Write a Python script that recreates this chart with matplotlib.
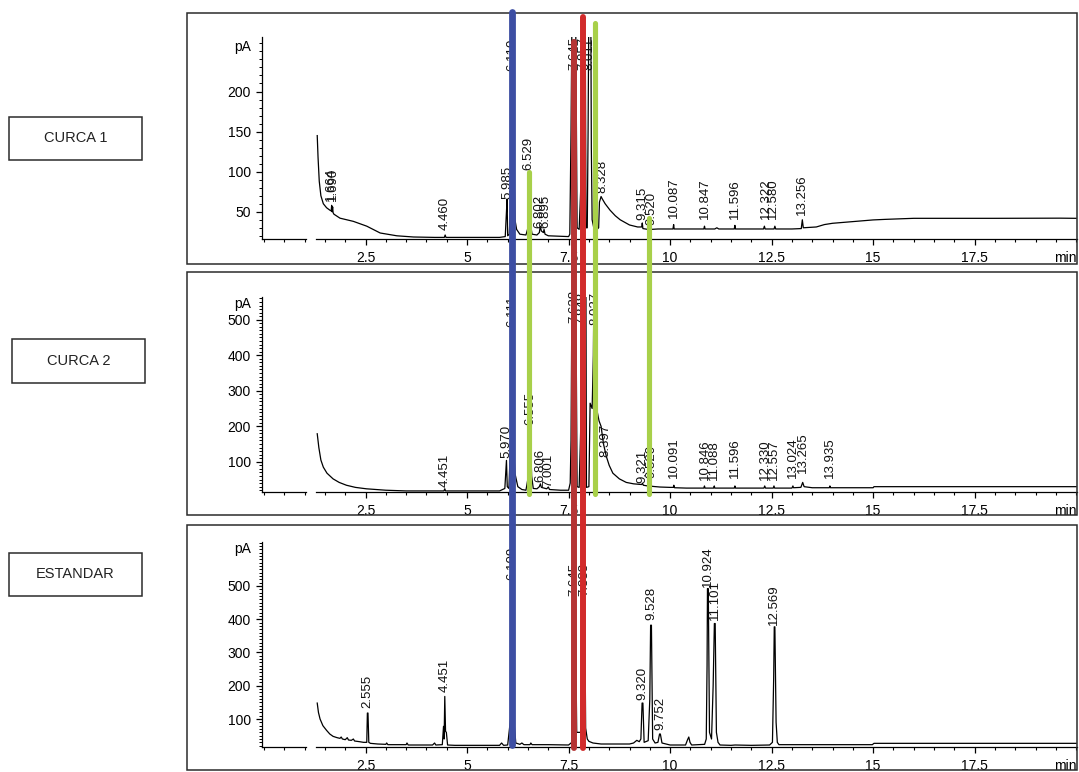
import matplotlib
matplotlib.use('Agg')
import matplotlib.pyplot as plt
import matplotlib.transforms as mtransforms
from matplotlib.patches import Rectangle
from matplotlib.lines import Line2D
from matplotlib.ticker import MultipleLocator, FixedLocator

plt.rcParams['font.family'] = ['Liberation Sans', 'DejaVu Sans']

# ---- data: (time min, signal pA) vertices ----
sample_names = ['CURCA 1', 'CURCA 2', 'ESTANDAR']

curca1_trace = [
    (1.31, 145), (1.33, 118), (1.36, 88), (1.40, 70), (1.46, 60), (1.54, 55), (1.62, 52),
    (1.655, 51), (1.665, 58), (1.675, 50), (1.69, 56), (1.70, 49), (1.72, 47), (1.87, 42),
    (2.20, 38), (2.53, 32), (2.86, 23.5), (3.27, 20), (3.68, 18.5), (4.20, 18), (4.44, 18),
    (4.46, 21), (4.48, 18), (5.00, 18), (5.80, 18), (5.94, 19), (5.97, 50), (5.985, 66),
    (6.00, 20), (6.04, 22), (6.07, 60), (6.11, 400), (6.15, 120), (6.18, 40), (6.22, 28),
    (6.30, 22), (6.45, 21), (6.50, 30), (6.53, 97), (6.56, 35), (6.60, 22), (6.72, 21),
    (6.78, 24), (6.802, 32), (6.83, 26), (6.88, 24), (6.895, 28), (6.92, 22), (7.00, 20),
    (7.50, 19), (7.53, 22), (7.56, 150), (7.60, 400), (7.66, 400), (7.71, 30), (7.76, 28),
    (7.80, 80), (7.85, 400), (7.90, 400), (7.93, 30), (7.96, 30), (7.98, 150), (8.01, 400),
    (8.04, 400), (8.06, 130), (8.08, 40), (8.12, 30), (8.20, 28), (8.24, 30), (8.26, 62),
    (8.30, 69), (8.33, 66), (8.40, 60), (8.52, 52), (8.65, 45), (8.77, 40), (9.00, 33.5),
    (9.20, 31), (9.30, 31), (9.315, 36), (9.33, 29), (9.45, 28), (9.50, 28), (9.52, 33),
    (9.54, 28), (9.70, 28.5), (10.07, 28.5), (10.087, 34), (10.10, 28.5), (10.40, 28.5),
    (10.83, 28.5), (10.847, 32), (10.86, 28.5), (11.10, 28.5), (11.15, 30), (11.20, 28.5),
    (11.58, 28.5), (11.596, 33), (11.61, 28.5), (11.85, 28.5), (12.30, 28.5), (12.322, 32),
    (12.34, 28.5), (12.56, 28.5), (12.58, 32), (12.60, 28.5), (13.00, 28.5), (13.23, 29),
    (13.256, 40), (13.28, 30), (13.60, 31), (13.80, 34), (14.00, 35.6), (14.50, 37.7),
    (15.00, 39.8), (15.30, 40.5), (16.00, 41.8), (18.00, 41.8), (19.60, 42), (20.00, 41.8),
]

curca2_trace = [
    (1.31, 179), (1.35, 140), (1.40, 105), (1.46, 85), (1.55, 68), (1.70, 52), (1.85, 42),
    (2.03, 34), (2.25, 28), (2.52, 24), (3.00, 20), (3.50, 18), (4.43, 18), (4.451, 24),
    (4.47, 18), (5.80, 18), (5.93, 25), (5.97, 104), (5.99, 30), (6.03, 25), (6.07, 150),
    (6.11, 900), (6.15, 130), (6.18, 67), (6.25, 30), (6.35, 22), (6.45, 20), (6.51, 60),
    (6.555, 195), (6.59, 60), (6.63, 25), (6.72, 24), (6.78, 30), (6.806, 38), (6.83, 28),
    (6.96, 24), (7.001, 29), (7.03, 22), (7.30, 20), (7.50, 20), (7.54, 40), (7.56, 160),
    (7.60, 900), (7.66, 900), (7.71, 30), (7.76, 28), (7.80, 200), (7.848, 900),
    (7.92, 900), (7.94, 28), (8.00, 30), (8.03, 265), (8.08, 250), (8.11, 400), (8.15, 900),
    (8.19, 250), (8.25, 215), (8.30, 200), (8.36, 150), (8.43, 115), (8.50, 90), (8.59, 68),
    (8.75, 52), (8.92, 42), (9.10, 38), (9.30, 36), (9.321, 40), (9.34, 34), (9.45, 32),
    (9.52, 38), (9.55, 31), (9.75, 29), (10.00, 28), (10.08, 28), (10.091, 34), (10.11, 27),
    (10.40, 26), (10.83, 26), (10.846, 32), (10.86, 26), (11.07, 26), (11.088, 32),
    (11.10, 26), (11.58, 26), (11.596, 32), (11.61, 26), (12.31, 26), (12.33, 32),
    (12.35, 26), (12.54, 26), (12.557, 32), (12.575, 26), (13.00, 26), (13.024, 32),
    (13.04, 27), (13.22, 28), (13.265, 42), (13.30, 30), (13.50, 27), (13.92, 27),
    (13.935, 32), (13.95, 27), (15.00, 27), (15.02, 30), (20.00, 30),
]

estandar_trace = [
    (1.31, 148), (1.34, 120), (1.38, 100), (1.45, 80), (1.54, 66), (1.62, 55), (1.70, 48),
    (1.80, 44), (1.87, 42), (1.90, 46), (1.93, 40), (2.00, 38), (2.05, 44), (2.08, 37),
    (2.15, 36), (2.20, 40), (2.23, 34), (2.35, 32), (2.45, 30), (2.53, 30), (2.545, 118),
    (2.56, 118), (2.58, 30), (2.62, 27), (2.80, 25), (3.00, 24), (3.02, 28), (3.05, 23),
    (3.50, 23), (3.52, 28), (3.55, 22), (4.15, 22), (4.20, 28), (4.23, 22), (4.39, 23),
    (4.42, 78), (4.435, 40), (4.451, 168), (4.47, 63), (4.49, 60), (4.52, 22), (4.70, 21),
    (5.80, 21), (5.85, 28), (5.90, 21), (6.00, 22), (6.07, 100), (6.11, 700), (6.15, 100),
    (6.20, 28), (6.30, 24), (6.35, 28), (6.40, 23), (6.55, 23), (6.57, 28), (6.60, 23),
    (7.00, 23), (7.50, 22), (7.58, 30), (7.645, 700), (7.70, 60), (7.80, 60), (7.883, 700),
    (7.92, 73), (7.96, 40), (8.00, 33), (8.10, 28), (8.30, 25), (9.00, 25), (9.10, 28),
    (9.18, 36), (9.24, 32), (9.28, 40), (9.31, 148), (9.33, 148), (9.36, 30), (9.46, 35),
    (9.50, 160), (9.52, 382), (9.54, 382), (9.57, 40), (9.63, 28), (9.70, 30), (9.74, 55),
    (9.76, 55), (9.80, 28), (9.90, 25), (10.00, 22), (10.38, 22), (10.43, 38), (10.46, 46),
    (10.49, 30), (10.53, 22), (10.85, 24), (10.89, 40), (10.91, 260), (10.92, 492),
    (10.94, 492), (10.97, 60), (11.02, 40), (11.06, 200), (11.09, 387), (11.11, 387),
    (11.14, 60), (11.18, 30), (11.23, 22), (11.50, 21), (11.60, 22), (12.00, 21),
    (12.45, 22), (12.52, 30), (12.55, 220), (12.565, 377), (12.58, 377), (12.61, 90),
    (12.64, 30), (12.68, 23), (13.00, 23), (14.00, 23), (14.98, 23), (15.02, 27),
    (18.00, 27), (20.00, 27),
]

# peak annotations: (text, time, pA where the text starts)
curca1_labels = [
    ('1.664', 1.66, 63), ('1.690', 1.69, 63), ('4.460', 4.46, 27), ('5.985', 5.985, 66),
    ('6.110', 6.11, 226), ('6.529', 6.51, 102), ('6.802', 6.78, 30), ('6.895', 6.92, 30),
    ('7.645', 7.645, 227), ('7.857', 7.857, 227), ('8.011', 8.011, 227), ('8.328', 8.328, 73),
    ('9.315', 9.315, 40), ('9.520', 9.54, 33), ('10.087', 10.087, 42), ('10.847', 10.847, 40.6),
    ('11.596', 11.596, 40.6), ('12.322', 12.36, 40.6), ('12.580', 12.54, 40.6),
    ('13.256', 13.256, 46),
]
curca2_labels = [
    ('4.451', 4.451, 30), ('5.970', 5.970, 111), ('6.111', 6.111, 480), ('6.555', 6.555, 204),
    ('6.806', 6.806, 43), ('7.001', 7.001, 29), ('7.638', 7.638, 491), ('7.848', 7.848, 485),
    ('8.027', 8.17, 485), ('8.397', 8.397, 114), ('9.321', 9.321, 40), ('9.520', 9.53, 54),
    ('10.091', 10.091, 54), ('10.846', 10.846, 49), ('11.088', 11.088, 49), ('11.596', 11.596, 54),
    ('12.330', 12.330, 49), ('12.557', 12.557, 49), ('13.024', 13.024, 54), ('13.265', 13.265, 68),
    ('13.935', 13.935, 54),
]
estandar_labels = [
    ('2.555', 2.555, 133), ('4.451', 4.451, 181), ('6.109', 6.109, 518), ('7.645', 7.645, 470),
    ('7.883', 7.883, 470), ('9.320', 9.320, 157), ('9.528', 9.528, 398), ('9.752', 9.752, 67),
    ('10.924', 10.924, 497), ('11.101', 11.101, 398), ('12.569', 12.569, 383),
]

# hand-drawn highlight bars (time of each bar)
bar_times = [6.11, 7.64, 7.85, 8.16, 6.53, 9.49]
bar_colors = ['#3d4ea3', '#b53434', '#d22b2b', '#a8d04a', '#a8d04a', '#a8d04a']

W, H = 1079, 772
fig = plt.figure(figsize=(W / 100, H / 100), dpi=100)


def fig_rect(l, t, r, b):
    return [l / W, 1 - b / H, (r - l) / W, (b - t) / H]


panels = [
    (curca1_trace, curca1_labels, (262, 37, 1077, 239), (187, 13, 1077, 264), (16, 268),
     [50, 100, 150, 200], 0.95, (9, 117, 142, 160)),
    (curca2_trace, curca2_labels, (262, 297, 1077, 492), (187, 272, 1077, 515), (15, 564),
     [100, 200, 300, 400, 500], 0.964, (12, 339, 145, 383)),
    (estandar_trace, estandar_labels, (262, 542, 1077, 747), (187, 525, 1077, 770), (16, 632),
     [100, 200, 300, 400, 500], 0.966, (9, 553, 142, 596)),
]

axes = []
for i, (trace, labels, ax_px, box_px, ylim, yticks, pa_y, name_px) in enumerate(panels):
    # outer frame of the chromatogram
    bl, bt, br, bb = box_px
    fig.add_artist(Rectangle((bl / W, 1 - bb / H), (br - bl) / W, (bb - bt) / H,
                             transform=fig.transFigure, fill=False, ec='#2b2b2b', lw=1.1))
    # sample name box on the left
    nl, nt, nr, nb = name_px
    fig.add_artist(Rectangle((nl / W, 1 - nb / H), (nr - nl) / W, (nb - nt) / H,
                             transform=fig.transFigure, fill=False, ec='#2b2b2b', lw=1.1))
    fig.text((nl + nr) / 2 / W, 1 - (nt + nb) / 2 / H, sample_names[i],
             ha='center', va='center', fontsize=10.5, color='#222222')

    ax = fig.add_axes(fig_rect(*ax_px))
    ax.patch.set_alpha(0)
    ts = [p[0] for p in trace]
    vs = [p[1] for p in trace]
    ax.plot(ts, vs, color='black', lw=0.9)

    ax.set_xlim(-0.05, 20.02)
    ax.set_ylim(*ylim)
    for s in ['top', 'right', 'bottom']:
        ax.spines[s].set_visible(False)
    ax.spines['left'].set_linewidth(0.9)
    # x axis line drawn with the little gap before the signal starts
    xt = ax.get_xaxis_transform()
    ax.plot([-0.05, 1.03], [0, 0], color='black', lw=0.9, transform=xt, clip_on=False)
    ax.plot([1.28, 20.02], [0, 0], color='black', lw=0.9, transform=xt, clip_on=False)

    ax.xaxis.set_major_locator(FixedLocator([2.5, 5, 7.5, 10, 12.5, 15, 17.5]))
    ax.set_xticklabels(['2.5', '5', '7.5', '10', '12.5', '15', '17.5'])
    ax.xaxis.set_minor_locator(MultipleLocator(0.5))
    ax.yaxis.set_major_locator(FixedLocator(yticks))
    ax.yaxis.set_minor_locator(MultipleLocator(10))
    ax.tick_params(axis='x', which='major', direction='out', length=4.5, width=0.9,
                   pad=4, labelsize=10)
    ax.tick_params(axis='x', which='minor', direction='out', length=2.5, width=0.8)
    ax.tick_params(axis='y', which='major', direction='out', length=4, width=0.9,
                   pad=4, labelsize=10)
    ax.tick_params(axis='y', which='minor', direction='out', length=2, width=0.7)
    ax.text(1.0, -0.06, 'min', transform=ax.transAxes, ha='right', va='top', fontsize=10)
    ax.text(-0.014, pa_y, 'pA', transform=ax.transAxes, ha='right', va='center', fontsize=10)

    for txt, t, v in labels:
        ax.text(t, v, txt, rotation=90, ha='center', va='bottom', fontsize=9.5,
                color='#111111', clip_on=False)
    axes.append(ax)

# coloured highlight bars drawn over the three panels
trans = mtransforms.blended_transform_factory(axes[0].transData, fig.transFigure)
bar_spans = [(12, 745, 4.9), (42, 748, 4.3), (17, 748, 4.3),
             (23, 494, 3.7), (172, 494, 3.7), (218, 494, 3.7)]
for t, c, (top, bot, lw) in zip(bar_times, bar_colors, bar_spans):
    fig.add_artist(Line2D([t, t], [1 - top / H, 1 - bot / H], transform=trans, color=c,
                          lw=lw, solid_capstyle='round', zorder=20))

fig.savefig('out.png', dpi=100)
